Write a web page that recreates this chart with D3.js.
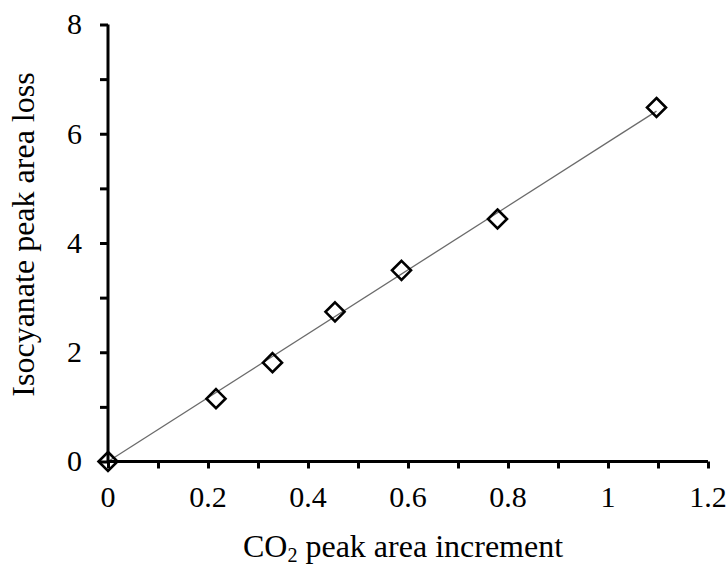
<!DOCTYPE html>
<html><head><meta charset="utf-8">
<script src="https://cdn.jsdelivr.net/npm/d3@7"></script>
<style>
html,body{margin:0;padding:0;background:#fff;}
svg text{font-family:"Liberation Serif","Times New Roman",serif;fill:#000;}
</style></head>
<body><svg id="c" width="727" height="565"></svg>
<script>
const xValues = [0, 0.216, 0.329, 0.454, 0.587, 0.779, 1.097];
const yValues = [0, 1.15, 1.81, 2.74, 3.50, 4.44, 6.48];
const xTicks = [0, 0.1, 0.2, 0.3, 0.4, 0.5, 0.6, 0.7, 0.8, 0.9, 1.0, 1.1, 1.2];
const xTickLabels = [0, 0.2, 0.4, 0.6, 0.8, 1, 1.2];
const yTicks = [0, 1, 2, 3, 4, 5, 6, 7, 8];
const yTickLabels = [0, 2, 4, 6, 8];
const xTitle = "CO";
const xTitleSub = "2";
const xTitleRest = " peak area increment";
const yTitle = "Isocyanate peak area loss";

const svg = d3.select("#c");
const x = d3.scaleLinear().domain([0, 1.2]).range([108, 708]);
const y = d3.scaleLinear().domain([0, 8]).range([461.5, 24.5]);
const fs = 30, tfs = 32;

// trendline (least squares through origin)
const sxy = d3.sum(xValues, (v, i) => v * yValues[i]);
const sxx = d3.sum(xValues, v => v * v);
const slope = sxy / sxx;
const xMax = d3.max(xValues);
svg.append("line")
  .attr("x1", x(0)).attr("y1", y(0))
  .attr("x2", x(xMax)).attr("y2", y(slope * xMax))
  .attr("stroke", "#6b6b6b").attr("stroke-width", 1.3);

// x axis
const gx = svg.append("g").attr("transform", `translate(0,${y(0)})`)
  .call(d3.axisBottom(x).tickValues(xTicks).tickSize(7).tickFormat(""));
gx.select(".domain").attr("stroke", "#000").attr("stroke-width", 3).attr("d", `M${x(0)},0H${x(1.2)}`);
gx.selectAll(".tick line").attr("stroke", "#000").attr("stroke-width", 3);
svg.append("g").selectAll("text").data(xTickLabels).join("text")
  .attr("x", d => x(d)).attr("y", 507)
  .attr("text-anchor", "middle").attr("font-size", fs)
  .text(d => d);

// y axis
const gy = svg.append("g").attr("transform", `translate(${x(0)},0)`)
  .call(d3.axisLeft(y).tickValues(yTicks).tickSize(8).tickFormat(""));
gy.select(".domain").attr("stroke", "#000").attr("stroke-width", 3).attr("d", `M0,${y(0)+1.5}V${y(8)}`);
gy.selectAll(".tick line").attr("stroke", "#000").attr("stroke-width", 3);
svg.append("g").selectAll("text").data(yTickLabels).join("text")
  .attr("x", 82).attr("y", d => y(d)).attr("dy", "0.33em")
  .attr("text-anchor", "end").attr("font-size", fs)
  .text(d => d);

// markers
svg.append("g").selectAll("path").data(xValues).join("path")
  .attr("transform", (d, i) => `translate(${x(d)},${y(yValues[i])})`)
  .attr("d", "M0,-9.5L9.5,0L0,9.5L-9.5,0Z")
  .attr("fill", "none").attr("stroke", "#000").attr("stroke-width", 2.6);

// titles
const xt = svg.append("text").attr("x", 403).attr("y", 557)
  .attr("text-anchor", "middle").attr("font-size", tfs);
xt.append("tspan").text(xTitle);
xt.append("tspan").attr("font-size", tfs * 0.63).attr("dy", 5).text(xTitleSub);
xt.append("tspan").attr("dy", -5).text(xTitleRest);

svg.append("text").attr("transform", `translate(34,${234.5}) rotate(-90)`)
  .attr("text-anchor", "middle").attr("font-size", tfs)
  .text(yTitle);
</script></body></html>
